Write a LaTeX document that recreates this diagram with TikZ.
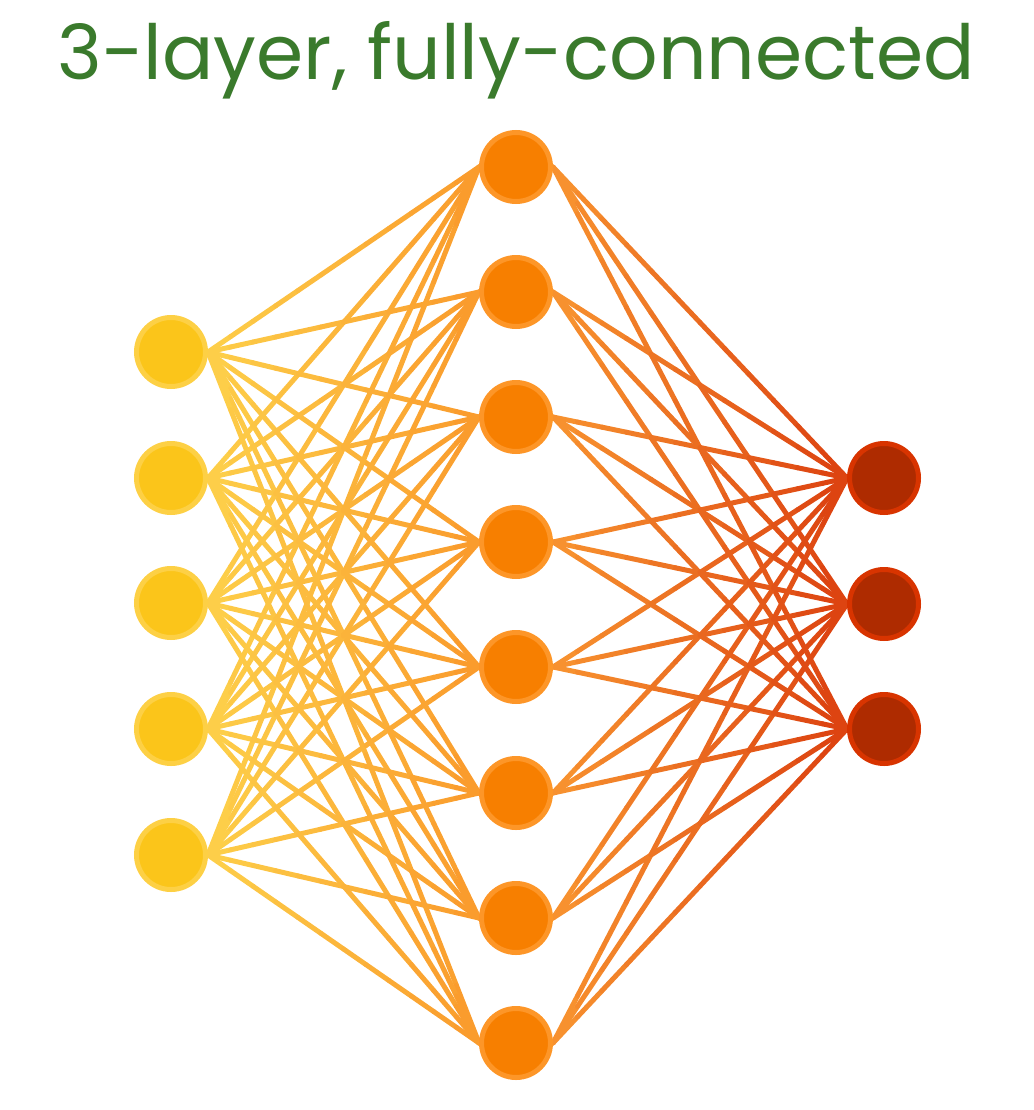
\documentclass[tikz,border=0pt]{standalone}
\usepackage{fontspec}
\setmainfont{Poppins}
\usetikzlibrary{calc,backgrounds}
\definecolor{inF}{HTML}{FBC51A}
\definecolor{inB}{HTML}{FDD045}
\definecolor{hidF}{HTML}{F77F00}
\definecolor{hidB}{HTML}{FD9628}
\definecolor{outF}{HTML}{AE2B00}
\definecolor{outB}{HTML}{D83400}
\definecolor{eA}{HTML}{FDD04A}
\definecolor{eB}{HTML}{FA9A2C}
\definecolor{eC}{HTML}{F89530}
\definecolor{eD}{HTML}{DC4010}
\definecolor{titleC}{HTML}{3A7A2C}
\begin{document}
\begin{tikzpicture}[x=0.75pt,y=-0.75pt,
  neuron/.style={circle,minimum size=51.75pt,inner sep=0pt,line width=3.75pt},
  inneuron/.style={neuron,draw=inB,fill=inF},
  hidneuron/.style={neuron,draw=hidB,fill=hidF},
  outneuron/.style={neuron,draw=outB,fill=outF},
  edge/.style={line width=3.75pt,line cap=round},
  titletext/.style={font=\fontsize{57}{66}\selectfont,text=titleC,inner sep=0pt,anchor=base}]
\useasboundingbox (0,0) rectangle (1034,1110);
\node[titletext] (title) at (516,79) {3-layer, fully-connected};
\foreach \y [count=\n] in {352,478,603,729,855}
  \node[inneuron] (i\n) at (171,\y) {};
\foreach \y [count=\n] in {167,292,417,542,667,793,918,1043}
  \node[hidneuron] (h\n) at (516,\y) {};
\foreach \y [count=\n] in {478,604,729}
  \node[outneuron] (o\n) at (884,\y) {};
\begin{scope}[on background layer]
\foreach \i in {1,...,5}
  \foreach \h in {1,...,8}
    \foreach \k in {0,...,11}{
      \pgfmathsetmacro\ta{\k/12}
      \pgfmathsetmacro\tb{(\k+1)/12}
      \pgfmathsetmacro\pc{100-100*(\k+0.5)/12}
      \draw[edge,eA!\pc!eB] ($(i\i.east)!\ta!(h\h.west)$) -- ($(i\i.east)!\tb!(h\h.west)$);
    }
\foreach \h in {1,...,8}
  \foreach \o in {1,...,3}
    \foreach \k in {0,...,11}{
      \pgfmathsetmacro\ta{\k/12}
      \pgfmathsetmacro\tb{(\k+1)/12}
      \pgfmathsetmacro\pc{100-100*(\k+0.5)/12}
      \draw[edge,eC!\pc!eD] ($(h\h.east)!\ta!(o\o.west)$) -- ($(h\h.east)!\tb!(o\o.west)$);
    }
\end{scope}
\end{tikzpicture}
\end{document}
